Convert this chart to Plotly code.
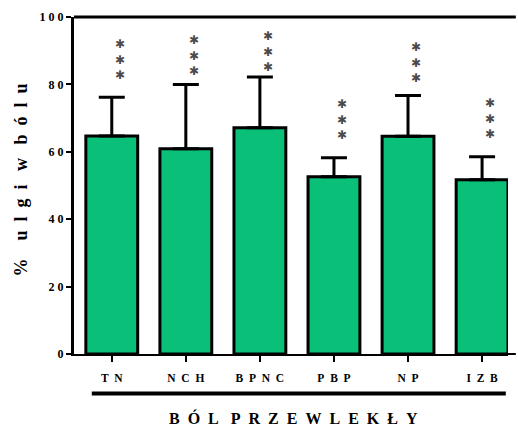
import plotly.graph_objects as go

# Pain relief (% ulgi w bólu) per chronic-pain group
categories = ["TN", "NCH", "BPNC", "PBP", "NP", "IZB"]
relief_mean = [64.7, 60.9, 67.1, 52.6, 64.6, 51.7]
relief_err_upper = [11.5, 19.1, 15.1, 5.6, 12.1, 6.8]
# level of the middle asterisk of each "***" significance mark
star_level = [87.4, 88.5, 89.7, 69.7, 86.5, 70.0]

y_ticks = [0, 20, 40, 60, 80, 100]

NB = "\u00a0"


def spaced(s, sep):
    return sep.join(list(s))


SERIF = "Liberation Serif"
GREEN = "#0abf78"

fig = go.Figure()
fig.add_trace(go.Bar(
    x=categories,
    y=relief_mean,
    width=0.7,
    marker=dict(color=GREEN, line=dict(color="black", width=3)),
    error_y=dict(type="data", symmetric=False, array=relief_err_upper,
                 arrayminus=[0] * len(categories),
                 color="black", thickness=3, width=13),
    showlegend=False,
))

annotations = []
for cat, lvl in zip(categories, star_level):
    annotations.append(dict(
        x=cat, y=lvl, xref="x", yref="y", text="✱<br>✱<br>✱", showarrow=False,
        xshift=8, yshift=0, yanchor="middle",
        font=dict(family="DejaVu Sans", size=12, color="#4a4a4a"),
    ))

G = NB * 2
W = NB * 3
# rotated y-axis title
annotations.append(dict(
    x=0, y=0.515, xref="paper", yref="paper", xanchor="center", yanchor="middle",
    xshift=-53, textangle=-90, showarrow=False,
    text=f"%{NB * 4}{spaced('ulgi', G)}{W}w{W}{spaced('bólu', G)}",
    font=dict(family=SERIF, size=18, color="black", weight="bold"),
))
# group title under the category labels
annotations.append(dict(
    x=0.505, y=-0.19, xref="paper", yref="paper", xanchor="center", yanchor="middle",
    showarrow=False,
    text=f"{spaced('BÓL', G)}{W}{spaced('PRZEWLEKŁY', G)}",
    font=dict(family=SERIF, size=16, color="black", weight="bold"),
))

EDGE = 1.018  # frame lines run on past the last bar
shapes = [
    # top frame line
    dict(type="line", xref="paper", yref="paper", x0=0, x1=EDGE, y0=1, y1=1,
         line=dict(color="black", width=3)),
    # baseline continuation past the last bar
    dict(type="line", xref="paper", yref="paper", x0=0.99, x1=EDGE, y0=0, y1=0,
         line=dict(color="black", width=2)),
    # bracket line under the category labels
    dict(type="line", xref="paper", yref="paper", x0=0.041, x1=0.995,
         y0=-0.117, y1=-0.117, line=dict(color="black", width=4)),
]

fig.update_layout(
    width=518, height=426,
    margin=dict(l=74, r=10, t=15, b=72),
    paper_bgcolor="white", plot_bgcolor="white",
    annotations=annotations, shapes=shapes,
    xaxis=dict(
        range=[-0.51, 5.35],
        tickmode="array", tickvals=categories,
        ticktext=[spaced(c, G) for c in categories],
        ticks="outside", ticklen=6, tickwidth=2, tickcolor="black",
        ticklabelstandoff=6,
        showline=True, linecolor="black", linewidth=2, mirror=False,
        showgrid=False, zeroline=False,
        tickfont=dict(family=SERIF, size=11.5, color="black", weight="bold"),
    ),
    yaxis=dict(
        range=[0, 100],
        tickmode="array", tickvals=y_ticks,
        ticktext=[spaced(str(v), NB) for v in y_ticks],
        ticks="outside", ticklen=5, tickwidth=2, tickcolor="black",
        showline=True, linecolor="black", linewidth=3, mirror=False,
        showgrid=False, zeroline=False,
        tickfont=dict(family=SERIF, size=12, color="black", weight="bold"),
    ),
)

fig.write_html("out.html")
